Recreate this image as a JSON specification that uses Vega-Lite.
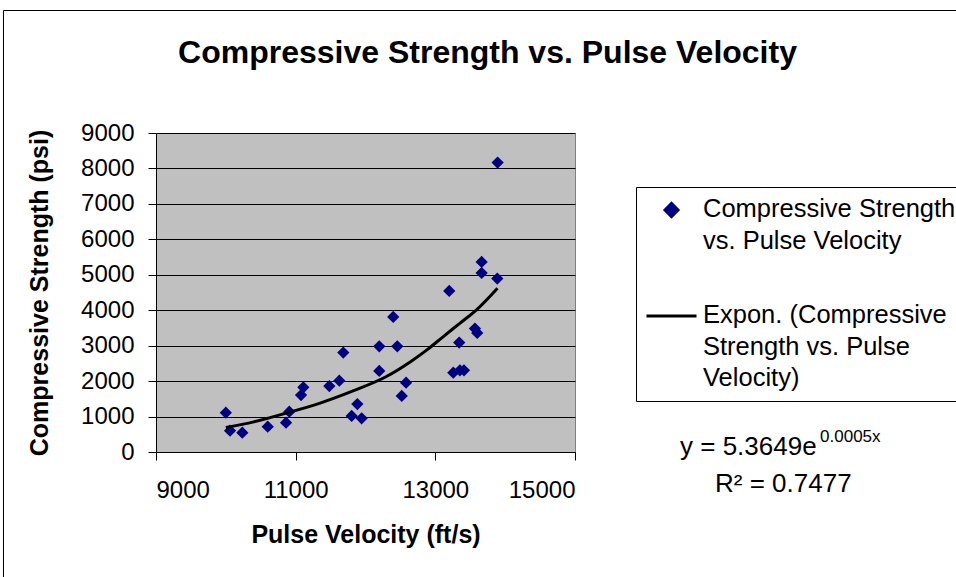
{
  "$schema": "https://vega.github.io/schema/vega-lite/v6.json",
  "width": 419,
  "height": 319,
  "autosize": {"type": "none"},
  "padding": {"left": 156, "top": 133, "right": 381, "bottom": 125},
  "background": "white",
  "title": {
    "text": "Compressive Strength vs. Pulse Velocity",
    "font": "Liberation Sans",
    "fontSize": 32,
    "fontWeight": "bold",
    "color": "black",
    "anchor": "middle",
    "frame": "group",
    "dx": 122,
    "baseline": "alphabetic",
    "offset": -85
  },
  "config": {
    "font": "Liberation Sans",
    "view": {"fill": "#C0C0C0", "stroke": "#808080", "strokeWidth": 1},
    "axis": {
      "labelFont": "Liberation Sans",
      "labelColor": "black",
      "labelFontSize": 24,
      "labelOverlap": false,
      "labelBound": false,
      "titleFont": "Liberation Sans",
      "titleColor": "black",
      "titleFontSize": 25,
      "titleFontWeight": "bold",
      "domainColor": "black",
      "domainWidth": 1,
      "tickColor": "black",
      "tickSize": 8,
      "tickWidth": 1
    }
  },
  "datasets": {
    "points": [
      {"x": 10000, "y": 1110, "series": "Compressive Strength|vs. Pulse Velocity"},
      {"x": 10060, "y": 600, "series": "Compressive Strength|vs. Pulse Velocity"},
      {"x": 10236, "y": 545, "series": "Compressive Strength|vs. Pulse Velocity"},
      {"x": 10600, "y": 714, "series": "Compressive Strength|vs. Pulse Velocity"},
      {"x": 10862, "y": 827, "series": "Compressive Strength|vs. Pulse Velocity"},
      {"x": 10909, "y": 1137, "series": "Compressive Strength|vs. Pulse Velocity"},
      {"x": 11077, "y": 1608, "series": "Compressive Strength|vs. Pulse Velocity"},
      {"x": 11110, "y": 1826, "series": "Compressive Strength|vs. Pulse Velocity"},
      {"x": 11482, "y": 1862, "series": "Compressive Strength|vs. Pulse Velocity"},
      {"x": 11625, "y": 2012, "series": "Compressive Strength|vs. Pulse Velocity"},
      {"x": 11682, "y": 2805, "series": "Compressive Strength|vs. Pulse Velocity"},
      {"x": 11802, "y": 1016, "series": "Compressive Strength|vs. Pulse Velocity"},
      {"x": 11883, "y": 1354, "series": "Compressive Strength|vs. Pulse Velocity"},
      {"x": 11945, "y": 951, "series": "Compressive Strength|vs. Pulse Velocity"},
      {"x": 12197, "y": 2286, "series": "Compressive Strength|vs. Pulse Velocity"},
      {"x": 12197, "y": 2982, "series": "Compressive Strength|vs. Pulse Velocity"},
      {"x": 12397, "y": 3809, "series": "Compressive Strength|vs. Pulse Velocity"},
      {"x": 12455, "y": 2982, "series": "Compressive Strength|vs. Pulse Velocity"},
      {"x": 12519, "y": 1580, "series": "Compressive Strength|vs. Pulse Velocity"},
      {"x": 12581, "y": 1955, "series": "Compressive Strength|vs. Pulse Velocity"},
      {"x": 13199, "y": 4543, "series": "Compressive Strength|vs. Pulse Velocity"},
      {"x": 13257, "y": 2238, "series": "Compressive Strength|vs. Pulse Velocity"},
      {"x": 13342, "y": 3087, "series": "Compressive Strength|vs. Pulse Velocity"},
      {"x": 13352, "y": 2305, "series": "Compressive Strength|vs. Pulse Velocity"},
      {"x": 13410, "y": 2305, "series": "Compressive Strength|vs. Pulse Velocity"},
      {"x": 13567, "y": 3482, "series": "Compressive Strength|vs. Pulse Velocity"},
      {"x": 13600, "y": 3358, "series": "Compressive Strength|vs. Pulse Velocity"},
      {"x": 13663, "y": 5361, "series": "Compressive Strength|vs. Pulse Velocity"},
      {"x": 13663, "y": 5051, "series": "Compressive Strength|vs. Pulse Velocity"},
      {"x": 13887, "y": 4893, "series": "Compressive Strength|vs. Pulse Velocity"},
      {"x": 13892, "y": 8166, "series": "Compressive Strength|vs. Pulse Velocity"}
    ],
    "trend": [
      {"x": 10000, "y": 690, "series": "Expon. (Compressive|Strength vs. Pulse|Velocity)"},
      {"x": 10400, "y": 850, "series": "Expon. (Compressive|Strength vs. Pulse|Velocity)"},
      {"x": 10870, "y": 1100, "series": "Expon. (Compressive|Strength vs. Pulse|Velocity)"},
      {"x": 11350, "y": 1380, "series": "Expon. (Compressive|Strength vs. Pulse|Velocity)"},
      {"x": 11830, "y": 1730, "series": "Expon. (Compressive|Strength vs. Pulse|Velocity)"},
      {"x": 12300, "y": 2130, "series": "Expon. (Compressive|Strength vs. Pulse|Velocity)"},
      {"x": 12640, "y": 2540, "series": "Expon. (Compressive|Strength vs. Pulse|Velocity)"},
      {"x": 12880, "y": 2880, "series": "Expon. (Compressive|Strength vs. Pulse|Velocity)"},
      {"x": 13110, "y": 3250, "series": "Expon. (Compressive|Strength vs. Pulse|Velocity)"},
      {"x": 13350, "y": 3630, "series": "Expon. (Compressive|Strength vs. Pulse|Velocity)"},
      {"x": 13590, "y": 4010, "series": "Expon. (Compressive|Strength vs. Pulse|Velocity)"},
      {"x": 13890, "y": 4620, "series": "Expon. (Compressive|Strength vs. Pulse|Velocity)"}
    ],
    "eq": [
      {"x": 16504, "y": -85, "label": "y = 5.3649e"},
      {"x": 17005, "y": -1120, "label": "R² = 0.7477"}
    ],
    "sup": [
      {"x": 18509, "y": 291, "label": "0.0005x"}
    ],
    "frame": [
      {"x": 6816, "y": 12456, "x2": 20600, "y2": 12456},
      {"x": 6816, "y": 12456, "x2": 6816, "y2": -3800}
    ]
  },
  "encoding": {
    "x": {
      "field": "x", "type": "quantitative",
      "scale": {"domain": [9000, 15000], "nice": false, "zero": false},
      "axis": {
        "title": "Pulse Velocity (ft/s)",
        "values": [9000, 11000, 13000, 15000],
        "format": "d",
        "grid": false,
        "labelOverlap": false,
        "labelPadding": 18,
        "titlePadding": 20
      }
    },
    "y": {
      "field": "y", "type": "quantitative",
      "scale": {"domain": [0, 9000], "nice": false},
      "axis": {
        "title": "Compressive Strength (psi)",
        "values": [0, 1000, 2000, 3000, 4000, 5000, 6000, 7000, 8000, 9000],
        "tickCount": 10,
        "format": "d",
        "grid": true,
        "gridColor": "black",
        "gridOpacity": 1,
        "gridWidth": 1,
        "labelOverlap": false,
        "labelPadding": 14,
        "titlePadding": 28
      }
    },
    "color": {
      "field": "series", "type": "nominal",
      "scale": {
        "domain": ["Compressive Strength|vs. Pulse Velocity", "Expon. (Compressive|Strength vs. Pulse|Velocity)"],
        "range": ["#000080", "black"]
      },
      "legend": {
        "orient": "none",
        "legendX": 480,
        "legendY": 54,
        "title": null,
        "labelExpr": "split(datum.label, '|')",
        "labelFont": "Liberation Sans",
        "labelFontSize": 25.5,
        "labelColor": "black",
        "labelLimit": 0,
        "labelBaseline": "top",
        "labelOffset": 5,
        "padding": 9,
        "strokeColor": "black",
        "fillColor": "white",
        "rowPadding": 48,
        "symbolSize": 2500,
        "symbolStrokeWidth": 3,
        "encode": {
          "symbols": {
            "update": {
              "shape": {"signal": "datum.value === 'Compressive Strength|vs. Pulse Velocity' ? 'diamond' : 'stroke'"},
              "size": {"signal": "datum.value === 'Compressive Strength|vs. Pulse Velocity' ? 170 : 2500"},
              "fill": {"signal": "datum.value === 'Compressive Strength|vs. Pulse Velocity' ? '#000080' : 'transparent'"},
              "stroke": {"signal": "datum.value === 'Compressive Strength|vs. Pulse Velocity' ? 'transparent' : 'black'"},
              "strokeWidth": {"value": 3},
              "opacity": {"value": 1},
              "y": {"value": 14}
            }
          },
          "labels": {
            "update": {
              "lineHeight": {"value": 31.5},
              "y": {"value": 1}
            }
          }
        }
      }
    }
  },
  "layer": [
    {
      "data": {"name": "frame"},
      "mark": {"type": "rule", "strokeWidth": 1},
      "encoding": {
        "x2": {"field": "x2"},
        "y2": {"field": "y2"},
        "color": {"value": "black"}
      }
    },
    {
      "data": {"name": "points"},
      "mark": {"type": "point", "filled": true, "shape": "diamond", "size": 150, "opacity": 1}
    },
    {
      "data": {"name": "trend"},
      "mark": {"type": "line", "strokeWidth": 3, "interpolate": "monotone"}
    },
    {
      "data": {"name": "eq"},
      "mark": {"type": "text", "align": "left", "baseline": "alphabetic", "fontSize": 26, "font": "Liberation Sans"},
      "encoding": {
        "text": {"field": "label"},
        "color": {"value": "black"}
      }
    },
    {
      "data": {"name": "sup"},
      "mark": {"type": "text", "align": "left", "baseline": "alphabetic", "fontSize": 17, "font": "Liberation Sans"},
      "encoding": {
        "text": {"field": "label"},
        "color": {"value": "black"}
      }
    }
  ]
}
